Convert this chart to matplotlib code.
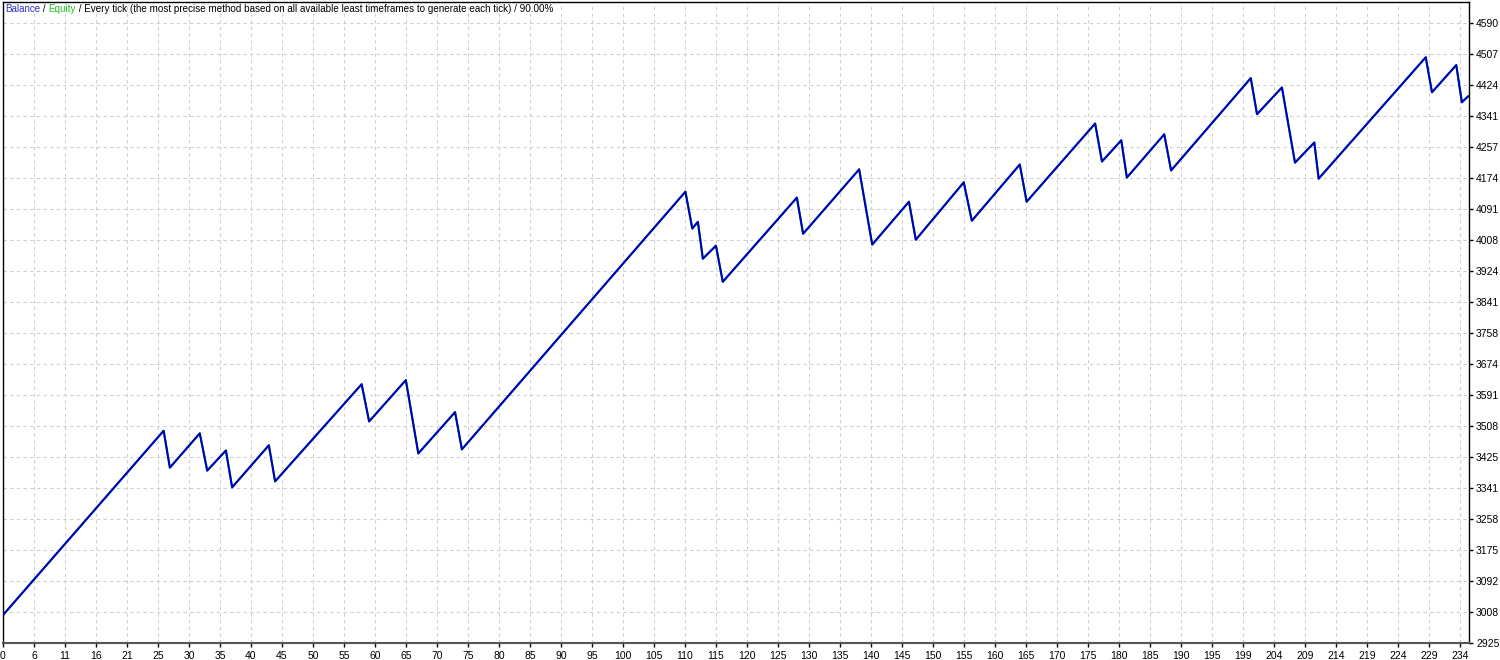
import matplotlib
matplotlib.use('Agg')
import matplotlib.pyplot as plt

plt.rcParams['font.family'] = ['Liberation Sans', 'DejaVu Sans']

# balance curve vertices (trade number, balance)
trade_no = [0, 25.8, 26.8, 31.6, 32.8, 35.8, 36.8, 42.7, 43.7, 57.6, 58.8,
            64.7, 66.7, 72.6, 73.7, 109.6, 110.7, 111.6, 112.4, 114.5, 115.6,
            127.5, 128.5, 137.5, 139.6, 145.5, 146.6, 154.3, 155.6, 163.3,
            164.4, 175.4, 176.5, 179.6, 180.5, 186.5, 187.6, 200.4, 201.4,
            205.4, 207.5, 210.6, 211.3, 228.5, 229.5, 233.4, 234.3, 235.3]
balance = [3000, 3495, 3396, 3488, 3388, 3442, 3343, 3456, 3359, 3620, 3520,
           3631, 3434, 3545, 3445, 4137, 4038, 4056, 3957, 3992, 3895,
           4121, 4024, 4197, 3995, 4110, 4008, 4162, 4059, 4210,
           4110, 4320, 4218, 4275, 4175, 4291, 4194, 4442, 4345,
           4417, 4215, 4269, 4172, 4498, 4404, 4477, 4377, 4393]

x_labels = ['0', '6', '11', '16', '21', '25', '30', '35', '40', '45', '50',
            '55', '60', '65', '70', '75', '80', '85', '90', '95', '100',
            '105', '110', '115', '120', '125', '130', '135', '140', '145',
            '150', '155', '160', '165', '170', '175', '180', '185', '190',
            '195', '199', '204', '209', '214', '219', '224', '229', '234']
y_labels = ['2925', '3008', '3092', '3175', '3258', '3341', '3425', '3508',
            '3591', '3674', '3758', '3841', '3924', '4008', '4091', '4174',
            '4257', '4341', '4424', '4507', '4590']

W, H = 1500, 660
fig = plt.figure(figsize=(W / 100, H / 100), dpi=100)
ax = fig.add_axes([3 / W, (H - 643) / H, (1469 - 3) / W, (643 - 2) / H])

step_x = 234 / 47
y0, step_y = 2925, (4590 - 2925) / 20
ax.set_xlim(0, 1466 / 31 * step_x)
ax.set_ylim(y0, y0 + 641 / 31 * step_y)

ax.set_xticks([i * step_x for i in range(len(x_labels))])
ax.set_xticklabels(x_labels)
ax.set_yticks([y0 + i * step_y for i in range(len(y_labels))])
ax.set_yticklabels(y_labels)
ax.yaxis.tick_right()
ax.tick_params(axis='both', labelsize=7.5, length=3, width=1, pad=2,
               colors='black')
ax.tick_params(axis='x', pad=3)

ax.grid(True, color='#cfcfcf', linestyle=(0, (3, 3)), linewidth=0.8)
ax.set_axisbelow(True)
for s in ax.spines.values():
    s.set_color('black')
    s.set_linewidth(1)
ax.spines['bottom'].set_color('#555555')
ax.spines['bottom'].set_linewidth(1.5)

# equity underneath, balance on top
ax.plot(trade_no, balance, color='#00c000', linewidth=1.4)
ax.plot(trade_no, balance, color='#0000c0', linewidth=1.5)

# header line made of coloured pieces
pieces = [('Balance', '#3030d0'), (' / ', 'black'), ('Equity', '#20c020'),
          (' / Every tick (the most precise method based on all available '
           'least timeframes to generate each tick) / 90.00%', 'black')]
fig.canvas.draw()
r = fig.canvas.get_renderer()
px = 5
for txt, col in pieces:
    t = fig.text(px / W, 1 - 9 / H, txt, color=col, fontsize=7.1,
                 va='center', ha='left')
    px += t.get_window_extent(r).width

fig.savefig('out.png', dpi=100)
